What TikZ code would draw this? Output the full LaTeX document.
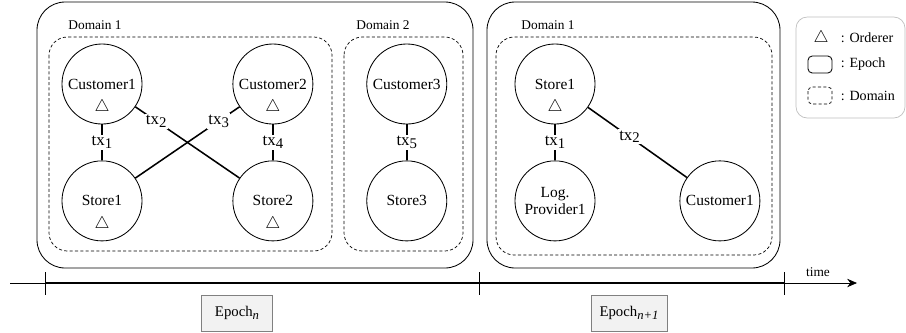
\documentclass[tikz,border=0pt]{standalone}
\usepackage{fontspec}
\setmainfont{Liberation Serif}
\usetikzlibrary{positioning,arrows.meta}

\newcommand{\txsub}[1]{tx\raisebox{-0.35ex}{\fontsize{10.5}{10.5}\selectfont #1}}

\begin{document}
\begin{tikzpicture}[x=0.025cm, y=-0.025cm, node distance=0.9cm,
		font=\fontsize{11}{12}\selectfont,
		peer/.style={draw, circle, minimum size=2cm, inner sep=0pt, align=center, line width=0.6pt},
		orderer/.style={inner sep=0pt, font=\fontsize{13}{13}\selectfont},
		tx/.style={line width=1.1pt},
		txlabel/.style={fill=white, inner sep=1pt, font=\fontsize{12}{12}\selectfont},
		epochbox/.style={draw, rounded corners=20pt, line width=0.6pt},
		domainbox/.style={draw, dash pattern=on 2.2pt off 1.6pt, rounded corners=13pt, line width=0.5pt},
		domainlabel/.style={font=\fontsize{9.5}{10}\selectfont},
		epochlabel/.style={draw=gray, fill=gray!10, minimum height=0.9cm, font=\fontsize{10.5}{11}\selectfont}]
	\useasboundingbox (0,0) rectangle (906,332);

	% epochs and domains
	\draw[epochbox] (37,2) rectangle (473,268);
	\draw[epochbox] (487,2) rectangle (780,268);
	\draw[domainbox] (49,37) rectangle (332,251);
	\draw[domainbox] (344,37) rectangle (463,251);
	\draw[domainbox] (496,37) rectangle (772,255);
	\node[domainlabel] (dom1) at (95,25) {Domain 1};
	\node[domainlabel] (dom2) at (383,25) {Domain 2};
	\node[domainlabel] (dom3) at (548,25) {Domain 1};

	% epoch n
	\node[peer] (c1) at (102,84) {Customer1};
	\node[peer, below=of c1] (s1) {Store1};
	\node[peer, right=2.25cm of c1] (c2) {Customer2};
	\node[peer, below=of c2] (s2) {Store2};
	\node[peer, right=1.325cm of c2] (c3) {Customer3};
	\node[peer, below=of c3] (s3) {Store3};
	\node[orderer] (o1) at ([yshift=-0.58cm]c1.center) {$\triangle$};
	\node[orderer] (o2) at ([yshift=-0.58cm]s1.center) {$\triangle$};
	\node[orderer] (o3) at ([yshift=-0.58cm]c2.center) {$\triangle$};
	\node[orderer] (o4) at ([yshift=-0.58cm]s2.center) {$\triangle$};

	\draw[tx] (c1) -- node[txlabel] (t1) {\txsub{1}} (s1);
	\draw[tx] (c1) -- node[txlabel, pos=0.2] (t2) {\txsub{2}} (s2);
	\draw[tx] (s1) -- node[txlabel, pos=0.8] (t3) {\txsub{3}} (c2);
	\draw[tx] (c2) -- node[txlabel] (t4) {\txsub{4}} (s2);
	\draw[tx] (c3) -- node[txlabel] (t5) {\txsub{5}} (s3);

	% epoch n+1
	\node[peer] (s4) at (555,84) {Store1};
	\node[peer, below=of s4] (lp) {Log.\\Provider1};
	\node[peer, right=2.1cm of lp] (c4) {Customer1};
	\node[orderer] (o5) at ([yshift=-0.58cm]s4.center) {$\triangle$};

	\draw[tx] (s4) -- node[txlabel] (t6) {\txsub{1}} (lp);
	\draw[tx] (s4) -- node[txlabel, pos=0.42] (t7) {\txsub{2}} (c4);

	% legend
	\draw[gray!50, rounded corners=8pt, line width=0.5pt] (796,17) rectangle (905,118);
	\node[orderer] (lo) at (821,38) {$\triangle$};
	\node[anchor=west, font=\fontsize{10}{10}\selectfont] (lot) at (836,38) {: Orderer};
	\draw[rounded corners=3pt, line width=0.6pt] (808,56) rectangle (832,73);
	\node[anchor=west, font=\fontsize{10}{10}\selectfont] (let) at (836,64) {: Epoch};
	\draw[dash pattern=on 2.2pt off 1.6pt, rounded corners=3pt, line width=0.5pt] (808,87) rectangle (832,104);
	\node[anchor=west, font=\fontsize{10}{10}\selectfont] (ldt) at (836,96) {: Domain};

	% time line
	\coordinate (tl) at (10,283);
	\coordinate (tr) at (857,283);
	\coordinate (ta) at (45,283);
	\coordinate (tb) at (784,283);
	\draw[-{Stealth[length=7pt,width=6pt]}, line width=0.5pt] (tl) -- (tr);
	\draw[line width=1.1pt] (ta) -- (tb);
	\foreach \x in {45,479,784}
		\draw[line width=0.6pt] (\x,272) -- (\x,295);
	\node[font=\fontsize{9.5}{10}\selectfont] (time) at (818,272) {time};

	\node[epochlabel, minimum width=1.78cm] (en) at (237,313) {Epoch\raisebox{-0.45ex}{\fontsize{9}{9}\selectfont\itshape n}};
	\node[epochlabel, minimum width=1.9cm] (en1) at (629,313) {Epoch\raisebox{-0.45ex}{\fontsize{9}{9}\selectfont\itshape n+1}};
\end{tikzpicture}
\end{document}
